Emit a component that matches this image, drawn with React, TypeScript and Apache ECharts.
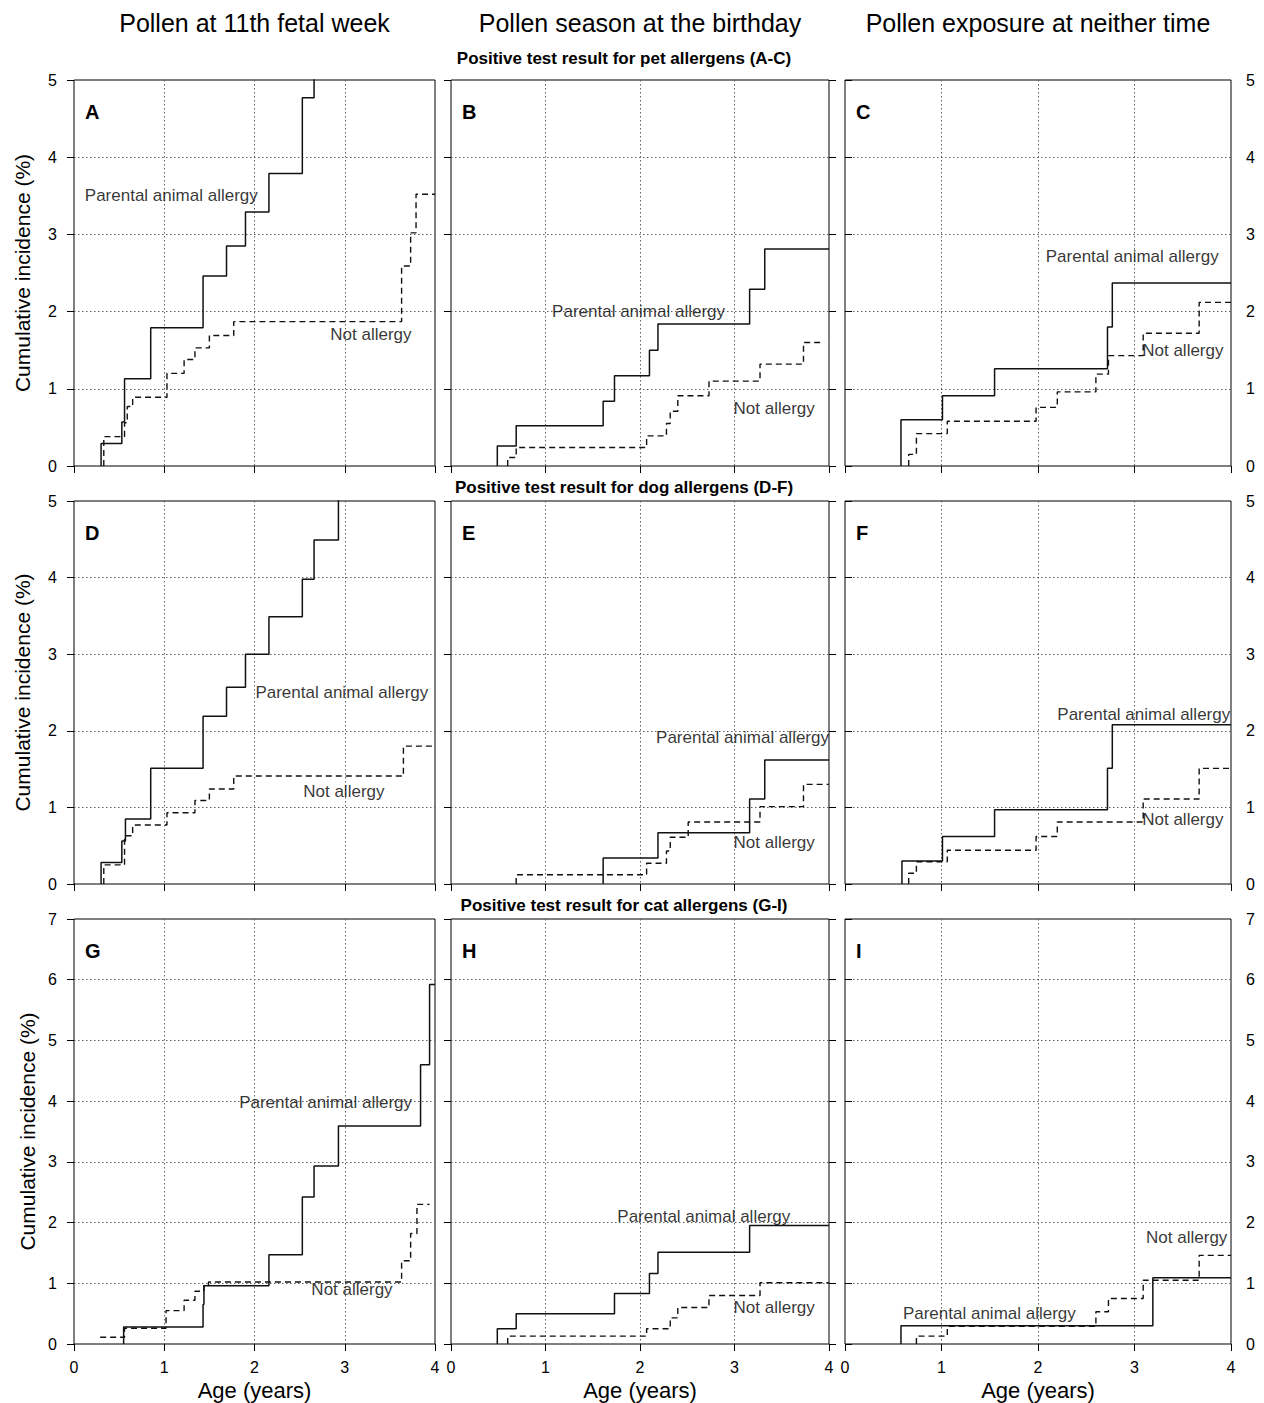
import React, { useEffect, useRef } from 'react';
import * as echarts from 'echarts';

// ---------- texts ----------
const columnTitles = ['Pollen at 11th fetal week', 'Pollen season at the birthday', 'Pollen exposure at neither time'];
const rowTitles = [
  'Positive test result for pet allergens (A-C)',
  'Positive test result for dog allergens (D-F)',
  'Positive test result for cat allergens (G-I)',
];
const panelLetters = ['A', 'B', 'C', 'D', 'E', 'F', 'G', 'H', 'I'];
const yAxisTitle = 'Cumulative incidence (%)';
const xAxisTitle = 'Age (years)';
const parentLabel = 'Parental animal allergy';
const notLabel = 'Not allergy';
const xMax = 4;
const rowYMax = [5, 5, 7];

// ---------- data: step times (years) and cumulative incidence (%) ----------
const aParentT = [0.30, 0.30, 0.53, 0.56, 0.85, 1.43, 1.69, 1.90, 2.16, 2.53, 2.66];
const aParentV = [0, 0.29, 0.57, 1.13, 1.79, 2.46, 2.85, 3.29, 3.79, 4.77, 5.4];
const aNotT = [0.33, 0.33, 0.56, 0.59, 0.65, 1.03, 1.22, 1.34, 1.50, 1.77, 3.63, 3.73, 3.79, 4.0];
const aNotV = [0, 0.38, 0.56, 0.77, 0.89, 1.20, 1.38, 1.53, 1.69, 1.87, 2.59, 3.02, 3.52, 3.52];

const bParentT = [0.49, 0.49, 0.69, 1.61, 1.73, 2.10, 2.19, 3.16, 3.32, 4.0];
const bParentV = [0, 0.26, 0.52, 0.84, 1.17, 1.50, 1.84, 2.29, 2.81, 2.81];
const bNotT = [0.60, 0.60, 0.69, 2.07, 2.28, 2.32, 2.40, 2.73, 3.27, 3.73, 3.95];
const bNotV = [0, 0.11, 0.24, 0.39, 0.55, 0.71, 0.91, 1.10, 1.32, 1.60, 1.60];

const cParentT = [0.58, 0.58, 1.01, 1.55, 2.72, 2.77, 4.0];
const cParentV = [0, 0.60, 0.91, 1.26, 1.80, 2.37, 2.37];
const cNotT = [0.66, 0.66, 0.74, 1.06, 1.98, 2.20, 2.60, 2.73, 3.09, 3.67, 4.0];
const cNotV = [0, 0.15, 0.42, 0.58, 0.76, 0.96, 1.19, 1.43, 1.72, 2.12, 2.12];

const dParentT = [0.30, 0.30, 0.53, 0.57, 0.85, 1.43, 1.69, 1.90, 2.16, 2.53, 2.66, 2.93];
const dParentV = [0, 0.28, 0.56, 0.85, 1.51, 2.19, 2.57, 3.00, 3.49, 3.98, 4.49, 5.4];
const dNotT = [0.33, 0.33, 0.56, 0.65, 1.03, 1.34, 1.50, 1.77, 3.65, 4.0];
const dNotV = [0, 0.25, 0.63, 0.77, 0.93, 1.09, 1.24, 1.41, 1.80, 1.80];

const eParentT = [1.61, 1.61, 2.19, 3.16, 3.32, 4.0];
const eParentV = [0, 0.34, 0.67, 1.11, 1.62, 1.62];
const eNotT = [0.69, 0.69, 2.07, 2.28, 2.32, 2.51, 3.27, 3.73, 4.0];
const eNotV = [0, 0.12, 0.27, 0.43, 0.61, 0.81, 1.01, 1.30, 1.30];

const fParentT = [0.59, 0.59, 1.01, 1.55, 2.72, 2.77, 4.0];
const fParentV = [0, 0.30, 0.62, 0.97, 1.51, 2.08, 2.08];
const fNotT = [0.66, 0.66, 0.74, 1.06, 1.98, 2.20, 3.09, 3.67, 3.98];
const fNotV = [0, 0.14, 0.29, 0.44, 0.62, 0.81, 1.11, 1.51, 1.51];

const gParentT = [0.55, 0.55, 1.43, 1.44, 2.16, 2.53, 2.66, 2.93, 3.84, 3.94, 4.0];
const gParentV = [0, 0.28, 0.65, 0.96, 1.47, 2.42, 2.93, 3.59, 4.60, 5.92, 5.92];
const gNotT = [0.29, 0.56, 1.02, 1.22, 1.34, 1.44, 1.49, 3.63, 3.73, 3.80, 3.94];
const gNotV = [0.11, 0.26, 0.55, 0.72, 0.87, 0.97, 1.02, 1.37, 1.82, 2.30, 2.30];

const hParentT = [0.49, 0.49, 0.69, 1.73, 2.10, 2.19, 3.16, 4.0];
const hParentV = [0, 0.25, 0.50, 0.83, 1.16, 1.51, 1.95, 1.95];
const hNotT = [0.60, 0.60, 2.07, 2.32, 2.40, 2.73, 3.27, 4.0];
const hNotV = [0, 0.13, 0.25, 0.43, 0.60, 0.80, 1.01, 1.01];

const iParentT = [0.58, 0.58, 3.19, 4.0];
const iParentV = [0, 0.30, 1.09, 1.09];
const iNotT = [0.74, 0.74, 1.06, 2.60, 2.73, 3.09, 3.67, 4.0];
const iNotV = [0, 0.13, 0.29, 0.53, 0.75, 1.05, 1.46, 1.46];

// label anchors (data coordinates: [years, %])
const parentLabelAt = [[0.12, 3.5], [1.07, 2.0], [2.08, 2.71], [2.01, 2.5], [2.17, 1.91], [2.2, 2.21], [1.83, 3.98], [1.76, 2.1], [0.6, 0.5]];
const notLabelAt = [[2.84, 1.7], [2.99, 0.75], [3.08, 1.49], [2.54, 1.21], [2.99, 0.54], [3.08, 0.84], [2.63, 0.9], [2.99, 0.6], [3.12, 1.75]];

const panelSeries = [
  [aParentT, aParentV, aNotT, aNotV],
  [bParentT, bParentV, bNotT, bNotV],
  [cParentT, cParentV, cNotT, cNotV],
  [dParentT, dParentV, dNotT, dNotV],
  [eParentT, eParentV, eNotT, eNotV],
  [fParentT, fParentV, fNotT, fNotV],
  [gParentT, gParentV, gNotT, gNotV],
  [hParentT, hParentV, hNotT, hNotV],
  [iParentT, iParentV, iNotT, iNotV],
];

// ---------- layout ----------
const FONT = '"Liberation Sans", Arial, Helvetica, sans-serif';
const COLS = [
  { left: 74, width: 361 },
  { left: 451, width: 378 },
  { left: 845, width: 386 },
];
const ROWS = [
  { top: 80, height: 386 },
  { top: 501, height: 383 },
  { top: 919, height: 425 },
];
const ROW_TITLE_Y = [58, 487, 905];
const Y_TITLE_X = [22, 22, 27];

const zip = (t: number[], v: number[]) => t.map((x, i) => [x, v[i]]);

function buildOption() {
  const grid: any[] = [];
  const xAxis: any[] = [];
  const yAxis: any[] = [];
  const series: any[] = [];
  const graphic: any[] = [];

  const gridLine = { show: true, showMinLine: false, showMaxLine: false, lineStyle: { color: '#5e5e5e', width: 1, type: [1.5, 2.5] } };
  const tick = { show: true, inside: false, length: 7, lineStyle: { color: '#000', width: 1 } };

  for (let r = 0; r < 3; r++) {
    for (let c = 0; c < 3; c++) {
      const idx = r * 3 + c;
      const col = COLS[c];
      const row = ROWS[r];
      grid.push({
        left: col.left, top: row.top, width: col.width, height: row.height,
        show: true, borderColor: '#000', borderWidth: 1, backgroundColor: 'transparent', containLabel: false,
      });
      xAxis.push({
        type: 'value', gridIndex: idx, min: 0, max: xMax, interval: 1,
        axisLine: { show: false }, axisTick: tick,
        axisLabel: { show: r === 2, fontSize: 16, color: '#000', fontFamily: FONT, margin: 15 },
        splitLine: gridLine,
      });
      const yMain = yAxis.length;
      yAxis.push({
        type: 'value', gridIndex: idx, min: 0, max: rowYMax[r], interval: 1,
        position: c === 2 ? 'right' : 'left',
        axisLine: { show: false }, axisTick: tick,
        axisLabel: { show: c !== 1, fontSize: 16, color: '#000', fontFamily: FONT, margin: c === 0 ? 17 : 15 },
        splitLine: gridLine,
      });
      if (c === 1) {
        yAxis.push({
          type: 'value', gridIndex: idx, min: 0, max: rowYMax[r], interval: 1, position: 'right',
          axisLine: { show: false }, axisTick: tick, axisLabel: { show: false }, splitLine: { show: false },
        });
      }
      const [pt, pv, nt, nv] = panelSeries[idx];
      series.push({
        type: 'line', xAxisIndex: idx, yAxisIndex: yMain, data: zip(pt, pv), step: 'end',
        symbol: 'none', clip: true, silent: true, z: 5,
        lineStyle: { color: '#111', width: 1.5, type: 'solid' },
      });
      series.push({
        type: 'line', xAxisIndex: idx, yAxisIndex: yMain, data: zip(nt, nv), step: 'end',
        symbol: 'none', clip: true, silent: true, z: 5,
        lineStyle: { color: '#111', width: 1.4, type: [6, 4] },
      });
      const labelStyle = { show: true, position: 'right', distance: 0, fontSize: 17, color: '#000', fontFamily: FONT };
      series.push({
        type: 'scatter', xAxisIndex: idx, yAxisIndex: yMain, symbolSize: 0, silent: true, z: 6,
        data: [parentLabelAt[idx]],
        label: { ...labelStyle, formatter: parentLabel },
      });
      series.push({
        type: 'scatter', xAxisIndex: idx, yAxisIndex: yMain, symbolSize: 0, silent: true, z: 6,
        data: [notLabelAt[idx]],
        label: { ...labelStyle, formatter: notLabel },
      });
      graphic.push({
        type: 'text', left: col.left + 11, top: row.top + 22, z: 10,
        style: { text: panelLetters[idx], font: `bold 20px ${FONT}`, fill: '#000' },
      });
    }
  }

  COLS.forEach((col, c) => {
    graphic.push({
      type: 'text', x: col.left + col.width / 2, y: 23, z: 10,
      style: { text: columnTitles[c], font: `25px ${FONT}`, fill: '#000', align: 'center', verticalAlign: 'middle' },
    });
    graphic.push({
      type: 'text', x: col.left + col.width / 2, y: 1390, z: 10,
      style: { text: xAxisTitle, font: `22px ${FONT}`, fill: '#000', align: 'center', verticalAlign: 'middle' },
    });
  });
  ROWS.forEach((row, r) => {
    graphic.push({
      type: 'text', x: 624, y: ROW_TITLE_Y[r], z: 10,
      style: { text: rowTitles[r], font: `bold 17px ${FONT}`, fill: '#000', align: 'center', verticalAlign: 'middle' },
    });
    graphic.push({
      type: 'text', x: Y_TITLE_X[r], y: row.top + row.height / 2, rotation: Math.PI / 2, z: 10,
      style: { text: yAxisTitle, font: `21px ${FONT}`, fill: '#000', align: 'center', verticalAlign: 'middle' },
    });
  });

  return {
    animation: false,
    backgroundColor: '#ffffff',
    textStyle: { fontFamily: FONT },
    grid, xAxis, yAxis, series, graphic,
  };
}

export default function App() {
  const ref = useRef<HTMLDivElement>(null);
  useEffect(() => {
    if (!ref.current) return;
    const chart = echarts.init(ref.current, null, { renderer: 'svg' });
    chart.setOption(buildOption() as any);
    return () => chart.dispose();
  }, []);
  return <div ref={ref} style={{ position: 'absolute', left: 0, top: 0, width: 1264, height: 1403 }} />;
}
